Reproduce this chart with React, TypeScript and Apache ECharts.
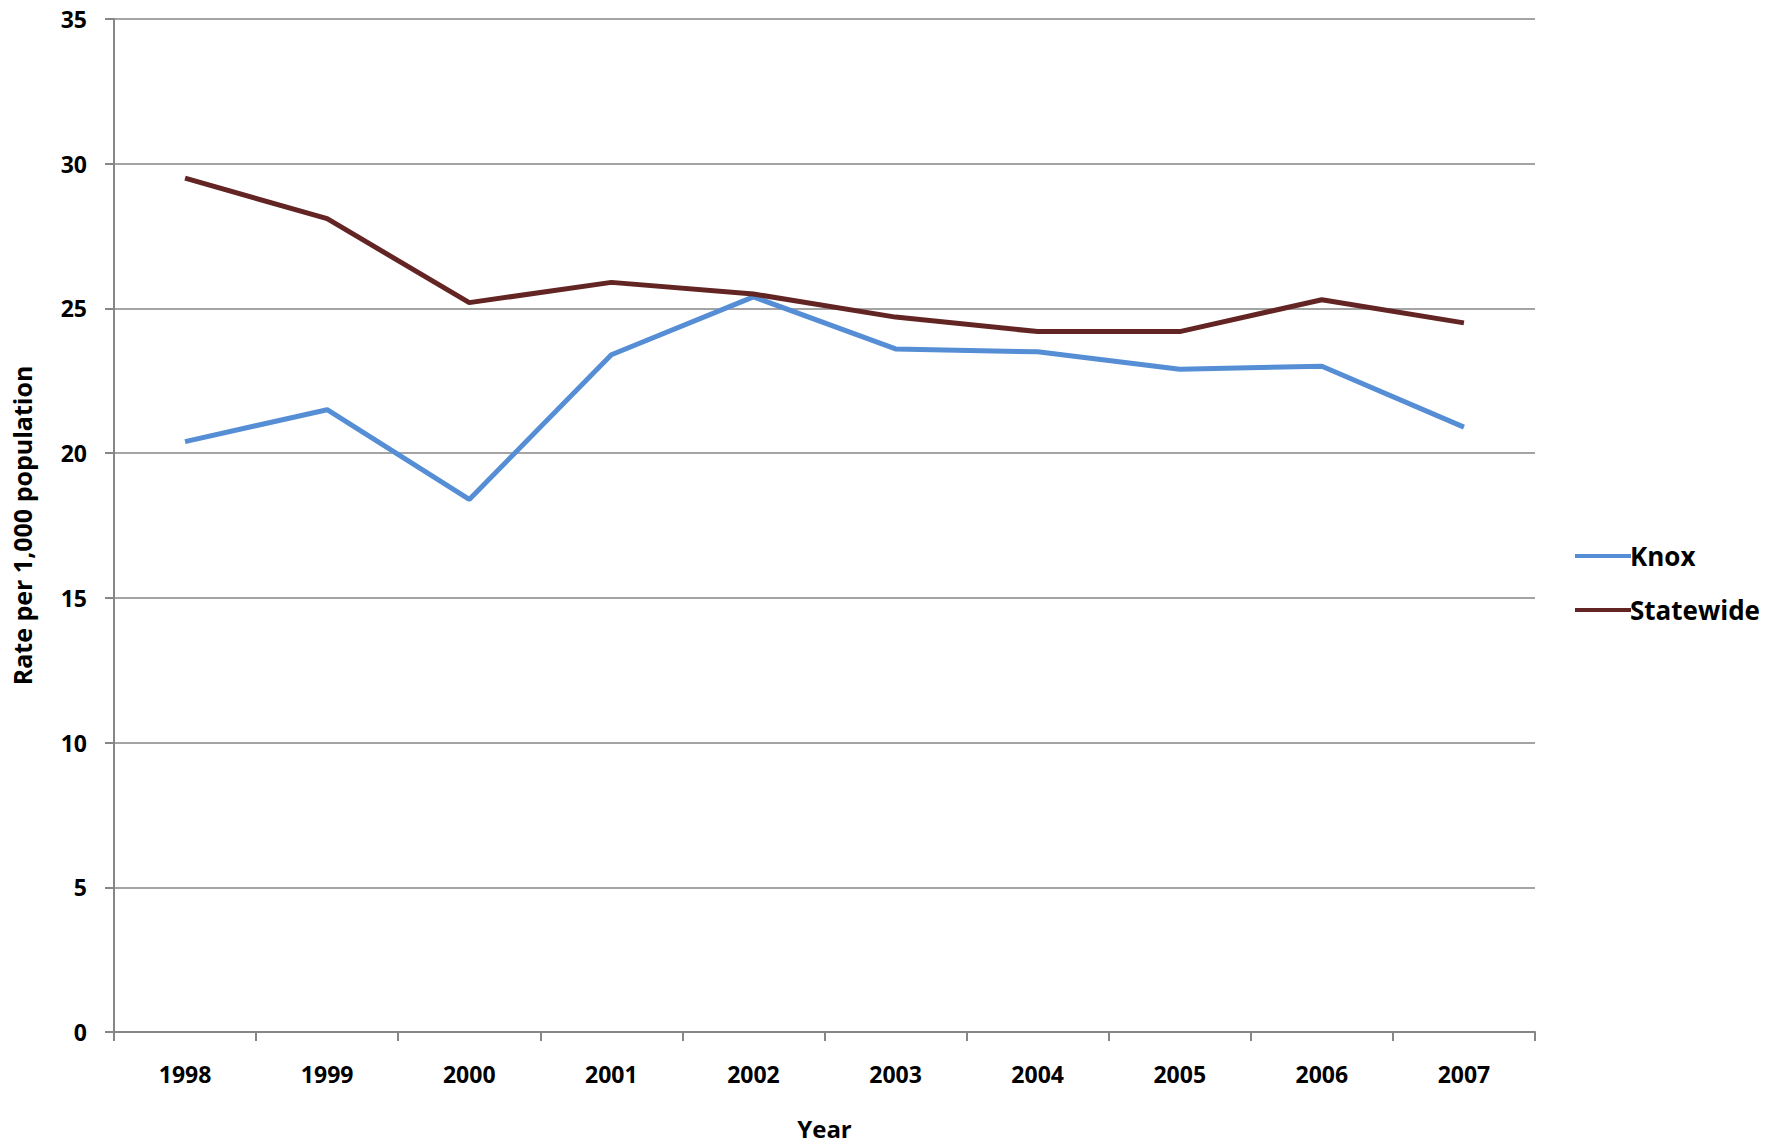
import React, { useEffect, useRef } from "react";
import * as echarts from "echarts";

const years = ["1998", "1999", "2000", "2001", "2002", "2003", "2004", "2005", "2006", "2007"];
const knox = [20.4, 21.5, 18.4, 23.4, 25.4, 23.6, 23.5, 22.9, 23.0, 20.9];
const statewide = [29.5, 28.1, 25.2, 25.9, 25.5, 24.7, 24.2, 24.2, 25.3, 24.5];

export default function App() {
  const ref = useRef<HTMLDivElement>(null);
  useEffect(() => {
    const chart = echarts.init(ref.current!, null, { renderer: "svg" });
    const font = "'Open Sans', sans-serif";
    chart.setOption({
      animation: false,
      textStyle: { fontFamily: font },
      grid: { left: 114, top: 19, right: 251, bottom: 108 },
      legend: {
        orient: "vertical",
        left: 1570,
        top: 538,
        itemWidth: 56,
        itemHeight: 4,
        itemGap: 28,
        icon: "rect",
        textStyle: { fontSize: 26, fontWeight: "bold", color: "#000", fontFamily: font, padding: [0, 0, 0, -6] },
        data: ["Knox", "Statewide"],
      },
      xAxis: {
        type: "category",
        data: years,
        boundaryGap: true,
        name: "Year",
        nameLocation: "middle",
        nameGap: 84,
        nameTextStyle: { fontSize: 24, fontWeight: "bold", color: "#000" },
        axisLine: { lineStyle: { color: "#868686", width: 2 } },
        axisTick: { show: true, length: 9, lineStyle: { color: "#868686", width: 2 } },
        axisLabel: { fontSize: 23, fontWeight: "bold", color: "#000", margin: 30 },
      },
      yAxis: {
        type: "value",
        min: 0,
        max: 35,
        interval: 5,
        name: "Rate per 1,000 population",
        nameLocation: "middle",
        nameGap: 80,
        nameTextStyle: { fontSize: 25, fontWeight: "bold", color: "#000" },
        axisLine: { show: true, lineStyle: { color: "#868686", width: 2 } },
        axisTick: { show: true, length: 9, lineStyle: { color: "#868686", width: 2 } },
        axisLabel: { fontSize: 23, fontWeight: "bold", color: "#000", margin: 27 },
        splitLine: { lineStyle: { color: "#868686", width: 1.5 } },
      },
      series: [
        { name: "Knox", type: "line", data: knox, symbol: "none", lineStyle: { color: "#558ED5", width: 5 }, itemStyle: { color: "#558ED5" } },
        { name: "Statewide", type: "line", data: statewide, symbol: "none", lineStyle: { color: "#632523", width: 5 }, itemStyle: { color: "#632523" } },
      ],
    });
    return () => chart.dispose();
  }, []);
  return <div ref={ref} style={{ position: "fixed", left: 0, top: 0, width: 1786, height: 1145, background: "#fff" }} />;
}
